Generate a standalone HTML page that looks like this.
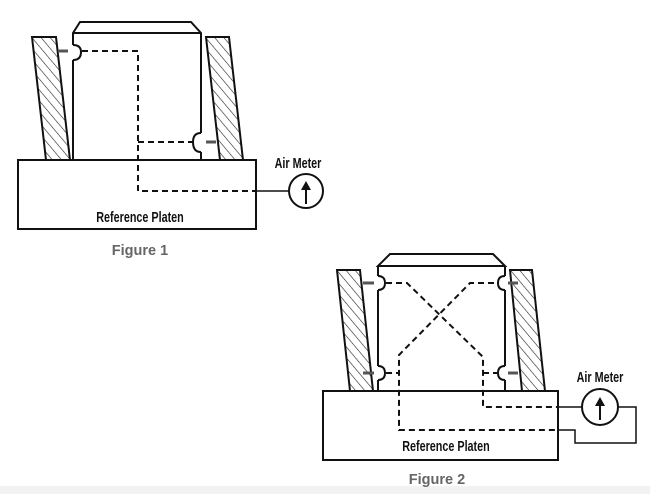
<!DOCTYPE html>
<html><head><style>
html,body{margin:0;padding:0;background:#fff;width:650px;height:494px;overflow:hidden}
svg{display:block}
text{font-family:"Liberation Sans",sans-serif}
</style></head><body>
<svg width="650" height="494" viewBox="0 0 650 494">
<defs>
<pattern id="h" width="7" height="7" patternUnits="userSpaceOnUse" patternTransform="rotate(-40)">
<line x1="0" y1="0" x2="0" y2="7" stroke="#222" stroke-width="1.2"/>
</pattern>
</defs>
<rect x="0" y="486" width="650" height="8" fill="#f2f2f2"/>
<g fill="none" stroke="#111" stroke-width="2">
<!-- Figure 1 -->
<polygon points="32,37 56,37 70,160 46,160" fill="url(#h)"/>
<polygon points="206,37 229,37 243,160 220,160" fill="url(#h)"/>
<path d="M73,160 L73,60 M73,45 L73,33 L80,22 L191,22 L201,33 L201,133 M201,152 L201,160"/>
<line x1="73" y1="33" x2="201" y2="33"/>
<path d="M73,45 Q81,45 81,52 Q81,60 73,60" />
<path d="M201,133 Q193,133 193,142 Q193,152 201,152"/>
<rect x="18" y="160" width="238" height="69"/>
<line x1="256" y1="191" x2="289" y2="191" stroke-width="1.5"/>
<circle cx="306" cy="191" r="17"/>
<line x1="306" y1="204" x2="306" y2="184"/>
<line x1="58" y1="51" x2="68" y2="51" stroke="#555" stroke-width="3"/>
<line x1="206" y1="142" x2="216" y2="142" stroke="#555" stroke-width="3"/>
<path d="M82,51 L138,51 L138,191 L256,191 M138,142 L193,142" stroke-dasharray="6,4"/>
<!-- Figure 2 -->
<polygon points="337,270 360,270 373,391 350,391" fill="url(#h)"/>
<polygon points="510,270 532,270 545,391 522,391" fill="url(#h)"/>
<path d="M378,266 L390,254 L493,254 L505,266 Z"/>
<path d="M378,266 L378,276 M378,290 L378,366 M378,380 L378,391"/>
<path d="M505,266 L505,276 M505,290 L505,366 M505,380 L505,391"/>
<path d="M378,276 Q385,276 385,283 Q385,290 378,290"/>
<path d="M378,366 Q385,366 385,373 Q385,380 378,380"/>
<path d="M505,276 Q498,276 498,283 Q498,290 505,290"/>
<path d="M505,366 Q498,366 498,373 Q498,380 505,380"/>
<rect x="323" y="391" width="235" height="69"/>
<line x1="363" y1="283" x2="374" y2="283" stroke="#555" stroke-width="3"/>
<line x1="363" y1="373" x2="374" y2="373" stroke="#555" stroke-width="3"/>
<line x1="508" y1="283" x2="518" y2="283" stroke="#555" stroke-width="3"/>
<line x1="508" y1="373" x2="518" y2="373" stroke="#555" stroke-width="3"/>
<path d="M386,283 L407,283 L483,357 L483,407 L558,407 M494,283 L470,283 L399,355 L399,430 L558,430 M386,373 L399,373 M483,373 L497,373" stroke-dasharray="6,4"/>
<path d="M558,407 L582,407 M618,407 L636,407 L636,443 L575,443 L575,430 L558,430" stroke-width="1.5"/>
<circle cx="600" cy="407" r="18"/>
<line x1="600" y1="420" x2="600" y2="400"/>
</g>
<polygon points="306,181 301,190 311,190" fill="#111"/>
<polygon points="600,397 595,406 605,406" fill="#111"/>
<g font-weight="bold" fill="#111">
<text x="140" y="222" font-size="15" text-anchor="middle" transform="translate(140,0) scale(0.72,1) translate(-140,0)">Reference Platen</text>
<text x="298" y="168" font-size="15" text-anchor="middle" transform="translate(298,0) scale(0.72,1) translate(-298,0)">Air Meter</text>
<text x="446" y="451" font-size="15" text-anchor="middle" transform="translate(446,0) scale(0.72,1) translate(-446,0)">Reference Platen</text>
<text x="600" y="382" font-size="15" text-anchor="middle" transform="translate(600,0) scale(0.72,1) translate(-600,0)">Air Meter</text>
</g>
<text x="140" y="255" font-size="14.5" font-weight="bold" fill="#666" text-anchor="middle">Figure 1</text>
<text x="437" y="484" font-size="14.5" font-weight="bold" fill="#666" text-anchor="middle">Figure 2</text>
</svg>
</body></html>
